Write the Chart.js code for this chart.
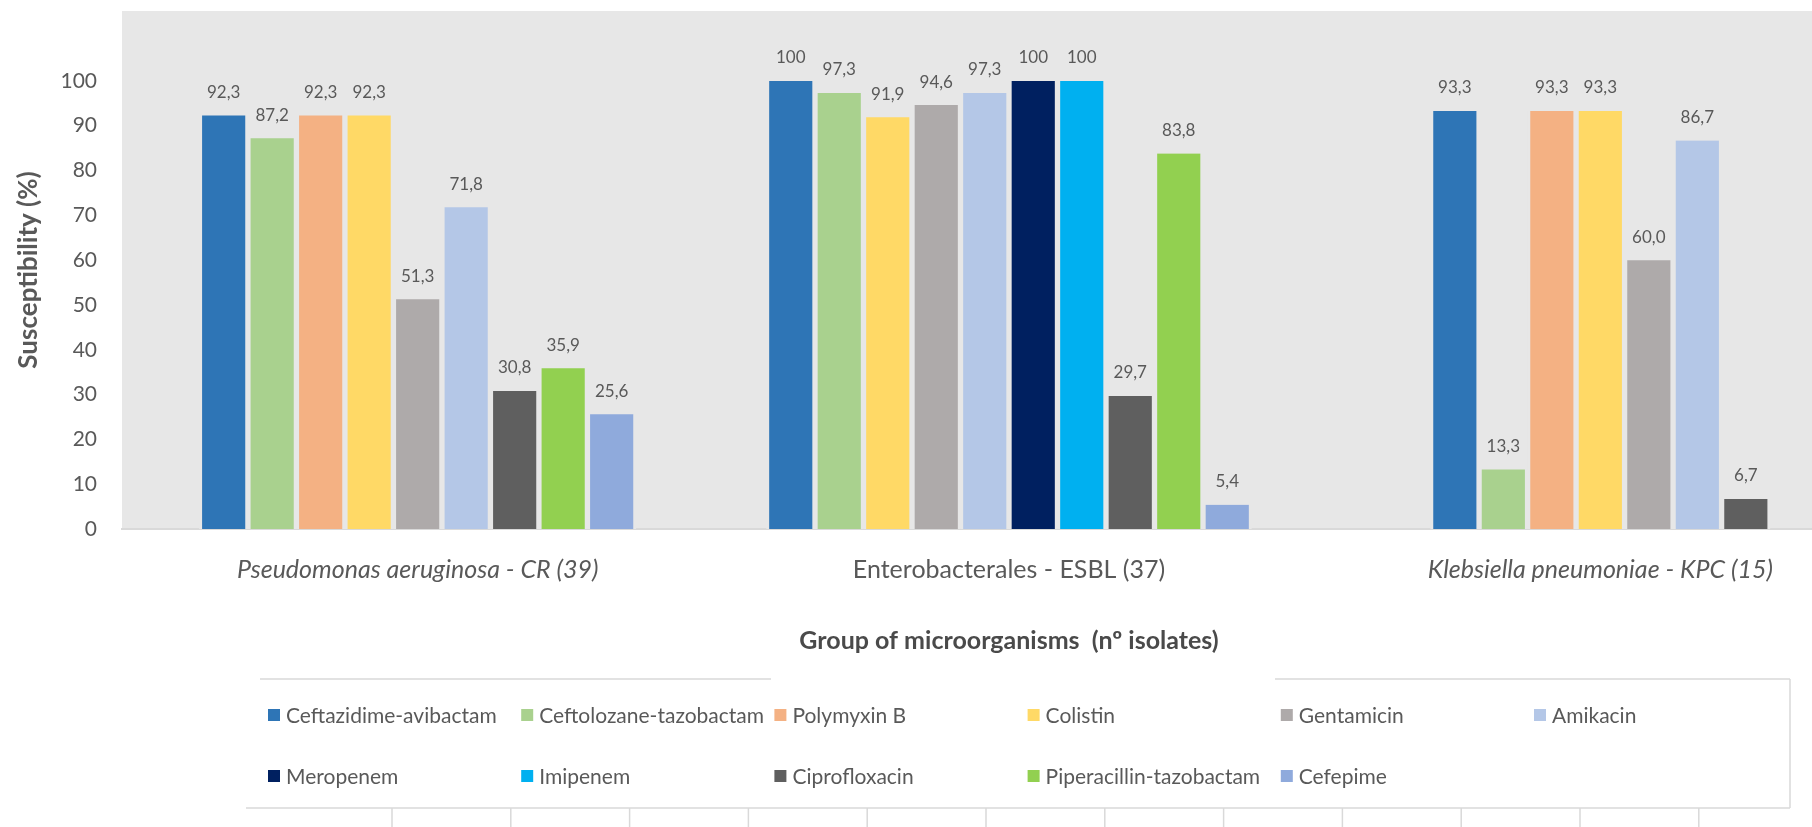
<!DOCTYPE html>
<html>
<head>
<meta charset="utf-8">
<script src="https://cdn.jsdelivr.net/npm/chart.js@4.4.0/dist/chart.umd.min.js"></script>
<style>
  html, body { margin: 0; padding: 0; background: #ffffff; overflow: hidden; }
  /* the plot area of the original continues past the right edge of the picture */
  #wrap { position: relative; width: 1812px; height: 827px; overflow: hidden; }
  canvas { display: block; }
</style>
</head>
<body>
<div id="wrap"><canvas id="c" width="1896" height="827"></canvas></div>
<script>
// ---------- data ----------
const categories = ['Pseudomonas aeruginosa - CR (39)', 'Enterobacterales - ESBL (37)', 'Klebsiella pneumoniae - KPC (15)'];
const italicCategory = [true, false, true];

const antibiotics = ['Ceftazidime-avibactam', 'Ceftolozane-tazobactam', 'Polymyxin B', 'Colistin', 'Gentamicin', 'Amikacin',
                     'Meropenem', 'Imipenem', 'Ciprofloxacin', 'Piperacillin-tazobactam', 'Cefepime'];

const ceftazidimeAvibactam   = [92.3, 100, 93.3];
const ceftolozaneTazobactam  = [87.2, 97.3, 13.3];
const polymyxinB             = [92.3, null, 93.3];
const colistin               = [92.3, 91.9, 93.3];
const gentamicin             = [51.3, 94.6, 60.0];
const amikacin               = [71.8, 97.3, 86.7];
const meropenem              = [null, 100, null];
const imipenem               = [null, 100, null];
const ciprofloxacin          = [30.8, 29.7, 6.7];
const piperacillinTazobactam = [35.9, 83.8, null];
const cefepime               = [25.6, 5.4, null];

const seriesValues = [ceftazidimeAvibactam, ceftolozaneTazobactam, polymyxinB, colistin, gentamicin, amikacin,
                      meropenem, imipenem, ciprofloxacin, piperacillinTazobactam, cefepime];

const yTickValues = [0, 10, 20, 30, 40, 50, 60, 70, 80, 90, 100];

// ---------- styles ----------
const seriesColors = ['#2E75B6', '#A9D18E', '#F4B183', '#FFD966', '#AEAAAA', '#B4C7E7',
                      '#002060', '#00B0F0', '#5F5F5F', '#92D050', '#8FAADC'];
const PLOT_BG = '#e7e7e7';
const TEXT = '#595959';
const FONT = 'Lato';

function formatValue(v) {
  return v === 100 ? '100' : v.toFixed(1).replace('.', ',');
}

const plotBackground = {
  id: 'plotBackground',
  beforeDraw(chart) {
    const a = chart.chartArea, ctx = chart.ctx;
    ctx.save();
    ctx.fillStyle = PLOT_BG;
    ctx.fillRect(a.left, a.top, a.right - a.left, a.bottom - a.top);
    ctx.restore();
  }
};

const valueLabels = {
  id: 'valueLabels',
  afterDatasetsDraw(chart) {
    const ctx = chart.ctx;
    ctx.save();
    ctx.font = '17px ' + FONT;
    ctx.fillStyle = TEXT;
    ctx.textAlign = 'center';
    ctx.textBaseline = 'middle';
    chart.data.datasets.forEach((ds, di) => {
      const meta = chart.getDatasetMeta(di);
      meta.data.forEach((bar, i) => {
        const v = ds.data[i];
        if (v === null || v === undefined) return;
        ctx.fillText(formatValue(v), bar.x, bar.y - 23);
      });
    });
    ctx.restore();
  }
};

const gridLegend = {
  id: 'gridLegend',
  afterDraw(chart) {
    const ctx = chart.ctx;
    ctx.save();
    ctx.strokeStyle = '#d9d9d9';
    ctx.lineWidth = 1.5;
    const line = (x1, y1, x2, y2) => { ctx.beginPath(); ctx.moveTo(x1, y1); ctx.lineTo(x2, y2); ctx.stroke(); };
    line(260, 679, 771, 679);
    line(1275, 679, 1790, 679);
    line(1790, 679, 1790, 808);
    line(246, 808, 1790, 808);
    for (let k = 0; k < 12; k++) {
      const x = 392 + k * 118.8;
      line(x, 808, x, 827);
    }
    const perRow = 6, x0 = 268, colStep = 253.2, rowY = [715, 776], box = 12;
    ctx.font = '21px ' + FONT;
    ctx.textAlign = 'left';
    ctx.textBaseline = 'middle';
    chart.data.datasets.forEach((ds, i) => {
      const col = i % perRow, row = Math.floor(i / perRow);
      const x = x0 + col * colStep, y = rowY[row];
      ctx.fillStyle = ds.backgroundColor;
      ctx.fillRect(x, y - box / 2, box, box);
      ctx.fillStyle = TEXT;
      ctx.fillText(ds.label, x + 18, y + 1);
    });
    ctx.restore();
  }
};

function fixPadding(s) {
  s.paddingTop = 0;
  s.paddingBottom = 0;
  s.paddingLeft = 0;
  s.paddingRight = 0;
}

function build() {
  new Chart(document.getElementById('c'), {
    type: 'bar',
    data: {
      labels: categories,
      datasets: antibiotics.map((name, i) => ({
        label: name,
        data: seriesValues[i],
        backgroundColor: seriesColors[i],
        borderColor: PLOT_BG,
        borderWidth: { left: 3, right: 3, top: 0, bottom: 0 },
        borderSkipped: false,
        skipNull: true,
        barThickness: 48.5
      }))
    },
    options: {
      responsive: false,
      animation: false,
      devicePixelRatio: 1,
      layout: { padding: { top: 11, right: 0, bottom: 0, left: 0 } },
      plugins: { legend: { display: false }, tooltip: { enabled: false } },
      scales: {
        x: {
          type: 'category',
          offset: true,
          grid: { display: false, drawTicks: false },
          border: { display: true, color: '#d9d9d9', width: 2 },
          ticks: {
            padding: 26,
            color: TEXT,
            maxRotation: 0,
            autoSkip: false,
            font: (ctx) => ({ family: FONT, size: 25, style: italicCategory[ctx.index] ? 'italic' : 'normal' })
          },
          title: {
            display: true,
            text: 'Group of microorganisms  (nº isolates)',
            color: '#4a4a4a',
            font: { family: FONT, size: 25, weight: 'bold' },
            padding: { top: 0, bottom: 171 }
          },
          afterFit: (s) => { s.height = 298; fixPadding(s); }
        },
        y: {
          min: 0,
          max: 115.6,
          grid: { display: false, drawTicks: false },
          border: { display: false },
          ticks: { stepSize: 10, padding: 25, color: TEXT, font: { family: FONT, size: 21 } },
          afterBuildTicks: (s) => { s.ticks = yTickValues.map(v => ({ value: v })); },
          title: {
            display: true,
            text: 'Susceptibility (%)',
            color: TEXT,
            font: { family: FONT, size: 26, weight: 'bold' },
            padding: { top: 13, bottom: 0 }
          },
          afterFit: (s) => { s.width = 122; fixPadding(s); }
        }
      }
    },
    plugins: [plotBackground, valueLabels, gridLegend]
  });
}

const fontLoads = ['17px Lato', '21px Lato', '25px Lato', 'italic 25px Lato', 'bold 25px Lato', 'bold 26px Lato']
  .map(f => document.fonts.load(f).catch(() => null));
Promise.all(fontLoads).then(build, build);
</script>
</body>
</html>
